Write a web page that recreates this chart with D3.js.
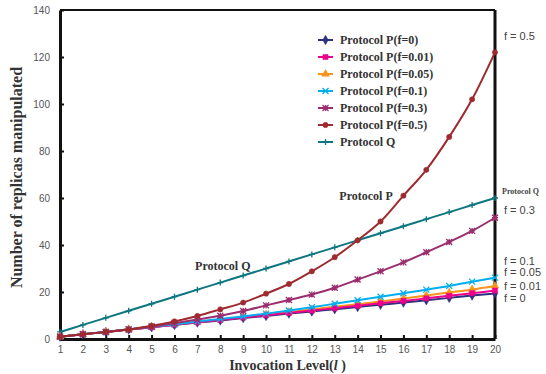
<!DOCTYPE html>
<html>
<head>
<meta charset="utf-8">
<script src="https://cdn.jsdelivr.net/npm/d3@7"></script>
<style>
  body { margin: 0; background: #fff; }
  svg { display: block; }
</style>
</head>
<body>
<div id="chart"></div>
<script>
// invocation levels
var levels = d3.range(1, 21);

var f0   = [1, 2, 3, 4, 5, 6, 7, 7.9, 8.9, 9.8, 10.8, 11.7, 12.7, 13.6, 14.6, 15.5, 16.5, 17.5, 18.5, 19.4];
var f001 = [1, 2, 3, 4, 5, 6.1, 7.1, 8.1, 9.1, 10.1, 11.1, 12.1, 13.1, 14.1, 15.2, 16.2, 17.3, 18.4, 19.5, 20.6];
var f005 = [1, 2, 3, 4, 5.1, 6.2, 7.2, 8.3, 9.4, 10.4, 11.5, 12.6, 13.7, 14.8, 16.0, 17.2, 18.5, 19.8, 21.1, 22.6];
var f01  = [1, 2, 3, 4.1, 5.2, 6.3, 7.4, 8.5, 9.6, 10.8, 12.1, 13.5, 15.0, 16.5, 18.0, 19.5, 21.0, 22.6, 24.4, 26.1];
var f03  = [1, 2, 3, 4.1, 5.3, 6.8, 8.3, 9.9, 11.9, 14.3, 16.6, 18.9, 21.8, 25.3, 28.8, 32.6, 36.9, 41.3, 46.0, 51.6];
var f05  = [1, 2, 3, 4, 5.6, 7.5, 9.8, 12.6, 15.5, 19.3, 23.4, 28.8, 34.8, 42, 50, 61, 72, 86, 102, 122];
var protoQ = [3, 6, 9, 12, 15, 18, 21, 24, 27, 30, 33, 36, 39, 42, 45, 48, 51, 54, 57, 60];

var seriesNames = ["Protocol P(f=0)", "Protocol P(f=0.01)", "Protocol P(f=0.05)", "Protocol P(f=0.1)",
                   "Protocol P(f=0.3)", "Protocol P(f=0.5)", "Protocol Q"];
var yTicks = [0, 20, 40, 60, 80, 100, 120, 140];

var series = [
  { name: seriesNames[0], values: f0,   color: "#2e3180", marker: "diamond" },
  { name: seriesNames[1], values: f001, color: "#ec008c", marker: "square" },
  { name: seriesNames[2], values: f005, color: "#f7941d", marker: "triangle" },
  { name: seriesNames[3], values: f01,  color: "#00aeef", marker: "x" },
  { name: seriesNames[4], values: f03,  color: "#9b2e6e", marker: "star" },
  { name: seriesNames[5], values: f05,  color: "#9e2a2f", marker: "circle" },
  { name: seriesNames[6], values: protoQ, color: "#0d7680", marker: "plus" }
];
// draw order: low lines first, Q and f=0.5 on top
var drawOrder = [6, 0, 2, 1, 3, 4, 5];

var width = 546, height = 374;
var margin = { top: 10, right: 51, bottom: 35, left: 60 };
var w = width - margin.left - margin.right,
    h = height - margin.top - margin.bottom;

var svg = d3.select("#chart").append("svg")
  .attr("width", width)
  .attr("height", height);

var g = svg.append("g")
  .attr("transform", "translate(" + margin.left + "," + margin.top + ")");

var x = d3.scaleLinear().domain([1, 20]).range([0, w]);
var y = d3.scaleLinear().domain([0, 140]).range([h, 0]);

// frame
g.append("line").attr("x1", 0).attr("x2", w).attr("y1", 0).attr("y2", 0)
  .attr("stroke", "#111").attr("stroke-width", 2);
g.append("line").attr("x1", w).attr("x2", w).attr("y1", 0).attr("y2", h)
  .attr("stroke", "#111").attr("stroke-width", 3);

// axes
var xAxis = g.append("g")
  .attr("transform", "translate(0," + h + ")")
  .call(d3.axisBottom(x).tickValues(levels).tickSize(-4).tickPadding(7).tickSizeOuter(0));
var yAxis = g.append("g")
  .call(d3.axisLeft(y).tickValues(yTicks).tickSize(-4).tickPadding(10).tickSizeOuter(0));

[xAxis, yAxis].forEach(function (a) {
  a.select(".domain").attr("stroke", "#111").attr("stroke-width", 3);
  a.selectAll(".tick line").attr("stroke", "#111").attr("stroke-width", 2);
  a.selectAll(".tick text")
    .attr("fill", "#555")
    .style("font-family", "'Liberation Sans', Arial, sans-serif")
    .style("font-size", "10px");
});

// marker paths
function markerPath(type, s) {
  var p = d3.path();
  if (type === "x") {
    p.moveTo(-s, -s); p.lineTo(s, s); p.moveTo(-s, s); p.lineTo(s, -s);
  } else if (type === "plus") {
    p.moveTo(-s, 0); p.lineTo(s, 0); p.moveTo(0, -s); p.lineTo(0, s);
  } else if (type === "star") {
    p.moveTo(-s, -s); p.lineTo(s, s); p.moveTo(-s, s); p.lineTo(s, -s);
    p.moveTo(-s, 0); p.lineTo(s, 0); p.moveTo(0, -s); p.lineTo(0, s);
  } else {
    var sym = { diamond: d3.symbolDiamond, square: d3.symbolSquare,
                triangle: d3.symbolTriangle, circle: d3.symbolCircle }[type];
    return d3.symbol().type(sym).size(type === "circle" ? 22 : 26)();
  }
  return p.toString();
}
function isStroke(type) { return type === "x" || type === "plus" || type === "star"; }

var line = d3.line()
  .x(function (d, i) { return x(levels[i]); })
  .y(function (d) { return y(d); })
  .curve(d3.curveMonotoneX);

drawOrder.forEach(function (idx) {
  var s = series[idx];
  var sg = g.append("g");
  sg.append("path")
    .attr("d", line(s.values))
    .attr("fill", "none")
    .attr("stroke", s.color)
    .attr("stroke-width", 2);
  sg.selectAll("path.m")
    .data(s.values)
    .enter().append("path")
    .attr("class", "m")
    .attr("transform", function (d, i) { return "translate(" + x(levels[i]) + "," + y(d) + ")"; })
    .attr("d", markerPath(s.marker, 3))
    .attr("fill", isStroke(s.marker) ? "none" : s.color)
    .attr("stroke", s.color)
    .attr("stroke-width", isStroke(s.marker) ? 1.3 : 0.5);
});

// legend
var legend = g.append("g").attr("transform", "translate(258,30)");
series.forEach(function (s, i) {
  var row = legend.append("g").attr("transform", "translate(0," + (i * 17) + ")");
  row.append("line").attr("x1", 0).attr("x2", 15).attr("y1", 0).attr("y2", 0)
    .attr("stroke", s.color).attr("stroke-width", 2);
  row.append("path")
    .attr("transform", "translate(7.5,0)")
    .attr("d", markerPath(s.marker, 3))
    .attr("fill", isStroke(s.marker) ? "none" : s.color)
    .attr("stroke", s.color)
    .attr("stroke-width", isStroke(s.marker) ? 1.3 : 0.5);
  row.append("text")
    .attr("x", 22).attr("y", 4)
    .attr("fill", "#333")
    .style("font-family", "'Liberation Serif', 'Times New Roman', serif")
    .style("font-weight", "bold")
    .style("font-size", "12px")
    .text(s.name);
});

// right-side labels
var sans = "'Liberation Sans', Arial, sans-serif";
var serif = "'Liberation Serif', 'Times New Roman', serif";
var rightLabels = [
  { text: "f = 0.5", yv: 129, size: 11, font: sans, bold: false },
  { text: "Protocol Q", yv: 63, size: 8, font: serif, bold: true },
  { text: "f = 0.3", yv: 55, size: 11, font: sans, bold: false },
  { text: "f = 0.1", yv: 33, size: 11, font: sans, bold: false },
  { text: "f = 0.05", yv: 28.5, size: 11, font: sans, bold: false },
  { text: "f = 0.01", yv: 22.5, size: 11, font: sans, bold: false },
  { text: "f = 0", yv: 17.5, size: 11, font: sans, bold: false }
];
g.selectAll("text.rl")
  .data(rightLabels)
  .enter().append("text")
  .attr("class", "rl")
  .attr("x", function (d) { return d.bold ? w + 7 : w + 9; })
  .attr("y", function (d) { return y(d.yv); })
  .attr("dy", "0.35em")
  .attr("fill", "#444")
  .style("font-family", function (d) { return d.font; })
  .style("font-weight", function (d) { return d.bold ? "bold" : "normal"; })
  .style("font-size", function (d) { return d.size + "px"; })
  .text(function (d) { return d.text; });

// in-plot annotations
g.append("text")
  .attr("x", x(13.2)).attr("y", y(59))
  .attr("fill", "#333")
  .style("font-family", serif).style("font-weight", "bold").style("font-size", "12px")
  .text("Protocol P");
g.append("text")
  .attr("x", x(6.9)).attr("y", y(29.5))
  .attr("fill", "#333")
  .style("font-family", serif).style("font-weight", "bold").style("font-size", "12px")
  .text("Protocol Q");

// axis titles
var xt = svg.append("text")
  .attr("x", margin.left + w / 2 + 10)
  .attr("y", 370)
  .attr("text-anchor", "middle")
  .attr("fill", "#333")
  .style("font-family", serif).style("font-weight", "bold").style("font-size", "14px");
xt.append("tspan").text("Invocation Level(");
xt.append("tspan").style("font-style", "italic").text("l ");
xt.append("tspan").text(")");

svg.append("text")
  .attr("transform", "translate(22," + (margin.top + h / 2 + 3) + ") rotate(-90)")
  .attr("text-anchor", "middle")
  .attr("fill", "#333")
  .style("font-family", serif).style("font-weight", "bold").style("font-size", "16px")
  .text("Number of replicas manipulated");
</script>
</body>
</html>
